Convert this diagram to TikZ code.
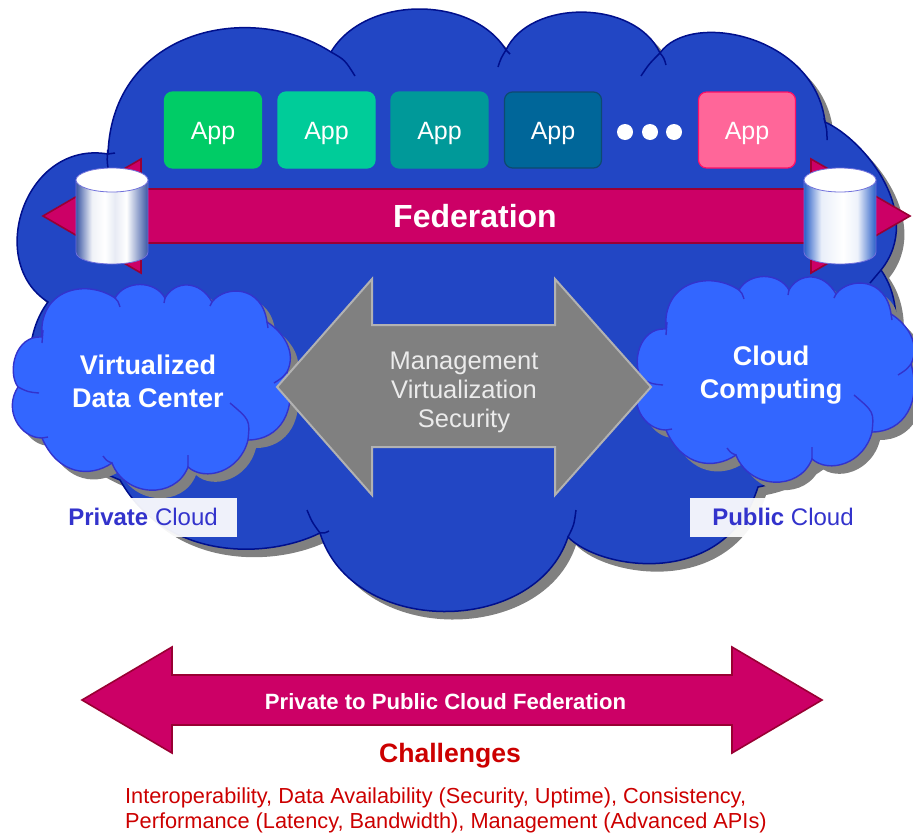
\documentclass[tikz,border=0pt]{standalone}
\usepackage{fontspec}
\setmainfont{Liberation Sans}
\definecolor{bigblue}{HTML}{2246C4}
\definecolor{bigline}{HTML}{000F8C}
\definecolor{smallblue}{HTML}{3366FF}
\definecolor{smallline}{HTML}{3333CC}
\definecolor{shadowgray}{HTML}{808080}
\definecolor{crimson}{HTML}{CC0066}
\definecolor{crimsonline}{HTML}{990033}
\definecolor{redtext}{HTML}{CC0000}
\definecolor{appA}{HTML}{00CC66}
\definecolor{appB}{HTML}{00CC99}
\definecolor{appC}{HTML}{009999}
\definecolor{appD}{HTML}{006699}
\definecolor{appDline}{HTML}{0D4A70}
\definecolor{appE}{HTML}{FF6699}
\definecolor{appEline}{HTML}{FF0F66}
\definecolor{drumLedge}{HTML}{3A56A4}
\definecolor{drumRedge}{HTML}{2A5FC8}
\pgfdeclarehorizontalshading{cylL}{100bp}{color(0bp)=(drumLedge);color(25bp)=(drumLedge);color(36bp)=(white!92!drumLedge);color(45bp)=(white);color(52bp)=(white!88!drumLedge);color(60bp)=(white);color(75bp)=(drumLedge);color(100bp)=(drumLedge)}
\pgfdeclarehorizontalshading{cylR}{100bp}{color(0bp)=(drumRedge);color(25bp)=(drumRedge);color(37bp)=(white!90!drumRedge);color(52bp)=(white);color(62bp)=(white!92!drumRedge);color(75bp)=(drumRedge);color(100bp)=(drumRedge)}
\newcommand\BigOutline{(108,154)
  .. controls (112,30) and (250,0) .. (331,52)
  .. controls (365,-5) and (472,-5) .. (506,50)
  .. controls (530,-1) and (635,-1) .. (660,53)
  .. controls (690,10) and (815,35) .. (825,122)
  .. controls (865,140) and (925,215) .. (881,270)
  .. controls (930,340) and (850,470) .. (758,487)
  .. controls (725,590) and (600,570) .. (568,537)
  .. controls (535,637) and (352,637) .. (320,533)
  .. controls (265,560) and (165,560) .. (120,480)
  .. controls (20,440) and (15,345) .. (48,302)
  .. controls (-15,262) and (25,140) .. (108,154) -- cycle}
\newcommand\BigTicks{
  (108,154) -- (115,153)
  (107.7,150) .. controls (107,160) .. (108,168)
  (331,52) .. controls (345,60) .. (355,76)
  (498,67) .. controls (501,58) .. (506,50)
  (506,50) -- (510,54)
  (641,76) .. controls (649,64) .. (660,53)
  (660,53) .. controls (664,58) .. (666,65)
  (824,118) .. controls (827,130) .. (827,140)
  (881,270) .. controls (876,276) .. (870,283)
  (568,537) .. controls (574,525) .. (576,510)
  (320,533) .. controls (312,522) .. (307,510)
  (320,533) .. controls (325,533) .. (329,531)}
\newcommand\SmallOutline{(42,337)
  .. controls (38,290) and (85,278) .. (115,298)
  .. controls (125,280) and (155,280) .. (165,298)
  .. controls (175,280) and (200,280) .. (212,302)
  .. controls (225,285) and (262,285) .. (267,322)
  .. controls (283,332) and (297,352) .. (287,372)
  .. controls (298,410) and (280,440) .. (248,440)
  .. controls (240,472) and (205,482) .. (188,467)
  .. controls (175,500) and (125,497) .. (112,463)
  .. controls (90,478) and (58,475) .. (42,438)
  .. controls (20,438) and (3,410) .. (18,387)
  .. controls (7,372) and (15,335) .. (42,337) -- cycle}
\newcommand\SmallTicks{
  (43,330) -- (42,343)
  (18,387) .. controls (28,392) .. (39,393)
  (42,438) -- (48,437)
  (112,463) .. controls (107,461) .. (103,456)
  (188,467) .. controls (188,460) .. (188,455)
  (248,440) .. controls (250,420) .. (230,403)
  (287,372) .. controls (282,378) .. (274,383)
  (267,322) .. controls (268,325) .. (268,328)
  (115,298) .. controls (118,301) .. (120,307)
  (165,298) -- (164,303)
  (212,302) -- (210,306)}
\newcommand\SmallCloud{%
  \fill[shadowgray,shift={(8,8)}] \SmallOutline;
  \draw[fill=smallblue,draw=smallline,line width=1.4pt] \SmallOutline;
  \draw[draw=smallline,line width=1.4pt] \SmallTicks;}
\newcommand\Drum[2]{%
  \shade[shading=#2,draw=smallline!70,line width=.8pt] (#1,180) -- (#1,252) .. controls (#1,268) and ({#1+72},268) .. ({#1+72},252) -- ({#1+72},180) -- cycle;
  \draw[fill=white,draw=smallline!70,line width=.8pt] ({#1+36},180) ellipse [x radius=36,y radius=12];}
\tikzset{
  appbox/.style={rounded corners=8pt,minimum width=97pt,minimum height=76pt,inner sep=0pt,text=white,line width=1.2pt,font=\fontsize{25}{28}\selectfont},
  apptext/.style={text=white,inner sep=0pt,font=\fontsize{25}{28}\selectfont},
  whitebold/.style={text=white,inner sep=0pt,align=center,font=\fontsize{27}{33}\selectfont\bfseries},
  dotmark/.style={circle,fill=white,minimum size=16pt,inner sep=0pt},
  tagbox/.style={fill=white,fill opacity=.93,minimum height=39pt,inner sep=0pt},
  taglabel/.style={text=smallline,inner sep=0pt,font=\fontsize{24}{28}\selectfont},
  redline/.style={text=redtext,inner sep=0pt,anchor=west,font=\fontsize{21.75}{25}\selectfont},
  crimsonarrow/.style={fill=crimson,draw=crimsonline,line width=1.6pt,line join=miter},
  grayarrow/.style={fill=shadowgray,draw=black!30,line width=2pt,line join=miter}
}
\begin{document}
\begin{tikzpicture}[x=1pt,y=-1pt]
\useasboundingbox (0,0) rectangle (913,833);
% big cloud
\fill[shadowgray,shift={(8,8)}] \BigOutline;
\draw[fill=bigblue,draw=bigline,line width=1.5pt] \BigOutline;
\draw[draw=bigline,line width=1.5pt] \BigTicks;
% apps
\node[appbox,fill=appA,draw=appA] (app1) at (213,130) {};
\node[appbox,fill=appB,draw=appB] (app2) at (326.5,130) {};
\node[appbox,fill=appC,draw=appC] (app3) at (439.5,130) {};
\node[appbox,fill=appD,draw=appDline] (app4) at (553,130) {};
\node[appbox,fill=appE,draw=appEline] (app5) at (747,130) {};
\foreach \n in {1,...,5} \node[apptext,yshift=-3pt] (apptext\n) at (app\n) {App};
\node[dotmark] (dot1) at (625,132) {};
\node[dotmark] (dot2) at (650,132) {};
\node[dotmark] (dot3) at (674,132) {};
% federation arrow
\draw[crimsonarrow] (43,216) -- (141,159) -- (141,189) -- (811,189) -- (811,159) -- (910,216) -- (811,273) -- (811,243) -- (141,243) -- (141,273) -- cycle;
\node[whitebold,font=\fontsize{32}{34}\selectfont\bfseries] (fed) at (475,216) {Federation};
\Drum{76}{cylL}
\Drum{804}{cylR}
% small clouds
\SmallCloud
\begin{scope}[shift={(624,-8)}]\SmallCloud\end{scope}
\node[whitebold] (vdc) at (148,381) {Virtualized\\Data Center};
\node[whitebold] (cc) at (771,375) {Cloud\\Computing};
% grey arrow
\draw[grayarrow] (277,387) -- (372,279) -- (372,325) -- (555,325) -- (555,279) -- (651,387) -- (555,495) -- (555,447) -- (372,447) -- (372,495) -- cycle;
\node[text=white!92!black,inner sep=0pt,align=center,font=\fontsize{25.5}{29}\selectfont] (mvs) at (464,392) {Management\\Virtualization\\Security};
% tags
\node[tagbox,minimum width=177pt] (privbox) at (148.5,517.5) {};
\node[tagbox,minimum width=172pt] (pubbox) at (776,517.5) {};
\node[taglabel] (priv) at (143,517) {\textbf{Private} Cloud};
\node[taglabel] (pub) at (783,517) {\textbf{Public} Cloud};
% bottom arrow
\draw[crimsonarrow] (82,700) -- (172,647) -- (172,675) -- (732,675) -- (732,647) -- (822,700) -- (732,753) -- (732,725) -- (172,725) -- (172,753) -- cycle;
\node[text=white,inner sep=0pt,font=\fontsize{22.1}{26}\selectfont\bfseries] (ptp) at (445.5,702) {Private to Public Cloud Federation};
\node[text=redtext,inner sep=0pt,font=\fontsize{26.6}{30}\selectfont\bfseries] (chal) at (450,756) {Challenges};
\node[redline] (l1) at (125,798) {Interoperability, Data Availability (Security, Uptime), Consistency,};
\node[redline] (l2) at (125,823) {Performance (Latency, Bandwidth), Management (Advanced APIs)};
\end{tikzpicture}
\end{document}
